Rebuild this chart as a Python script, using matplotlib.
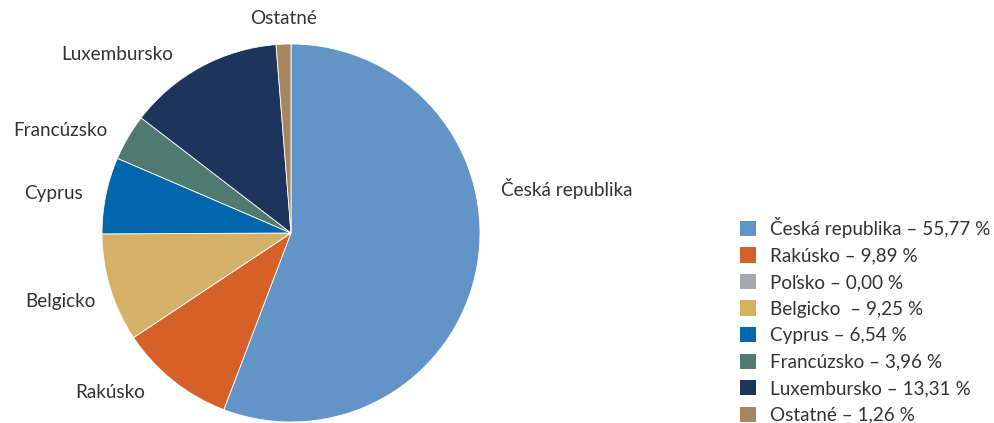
import matplotlib.pyplot as plt
from matplotlib.patches import Patch

countries = ['Česká republika', 'Rakúsko', 'Poľsko', 'Belgicko', 'Cyprus',
             'Francúzsko', 'Luxembursko', 'Ostatné']
shares = [55.77, 9.89, 0.00, 9.25, 6.54, 3.96, 13.31, 1.26]
legend_labels = ['Česká republika – 55,77 %', 'Rakúsko – 9,89 %', 'Poľsko – 0,00 %',
                 'Belgicko  – 9,25 %', 'Cyprus – 6,54 %', 'Francúzsko – 3,96 %',
                 'Luxembursko – 13,31 %', 'Ostatné – 1,26 %']
colors = ['#6394C8', '#D66128', '#A5AAAE', '#D6B064', '#0067AC',
          '#507A70', '#1D345C', '#A6865D']

# label spots in pixels (x centre, y from top); Poľsko has no label
label_px = [(567, 188), (110, 392), None, (60, 302), (53, 193),
            (60, 130), (117, 55), (284, 19)]

W, H = 995, 423
cx, cy, R = 291, 233, 189
txt = '#333333'
fs = 13.6

fig = plt.figure(figsize=(W / 100, H / 100), dpi=100)
ax = fig.add_axes([0, 0, 1, 1])

wedges, _ = ax.pie(shares, colors=colors, startangle=90, counterclock=False,
                   radius=1, center=(0, 0),
                   wedgeprops=dict(edgecolor='white', linewidth=0.6))
ax.set_aspect('auto')
ax.set_xlim(-cx / R, (W - cx) / R)
ax.set_ylim(-(H - cy) / R, cy / R)
ax.axis('off')

for name, pos in zip(countries, label_px):
    if pos is None:
        continue
    x, y = pos
    ax.text((x - cx) / R, (cy - y) / R, name, ha='center', va='center',
            fontsize=fs, color=txt, family=['Lato', 'DejaVu Sans'])

handles = [Patch(facecolor=c, edgecolor='none') for c in colors]
leg = fig.legend(handles, legend_labels, loc='upper left',
                 bbox_to_anchor=(740 / W, 1 - 217 / H), frameon=False,
                 prop=dict(family=['Lato', 'DejaVu Sans'], size=fs),
                 handlelength=0.85, handleheight=0.85, handletextpad=0.75,
                 labelspacing=0.5, borderpad=0, borderaxespad=0)
for t in leg.get_texts():
    t.set_color(txt)

fig.savefig('out.png', dpi=100)
